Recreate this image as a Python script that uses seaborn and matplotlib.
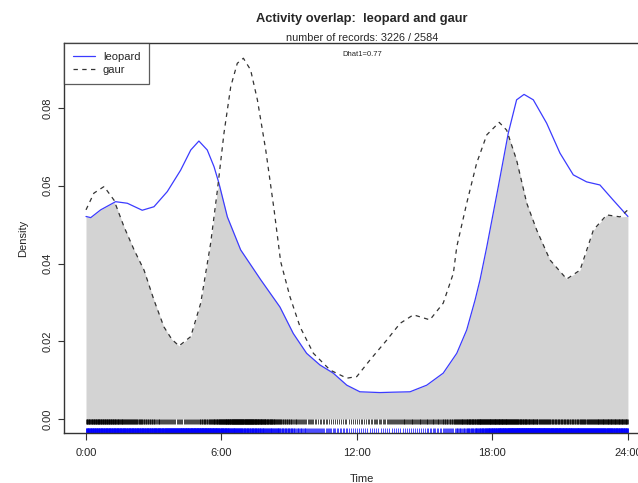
import numpy as np
import pandas as pd
import matplotlib
matplotlib.use("Agg")
import matplotlib.pyplot as plt
from matplotlib.lines import Line2D
import seaborn as sns

# Kernel density estimates of activity over the day (hours since midnight)
leopard_hours = [0.0, 0.21, 0.65, 1.31, 1.83, 2.49, 3.01, 3.6, 4.19, 4.64, 5.0,
                 5.37, 5.67, 5.89, 6.26, 6.85, 7.74, 8.59, 9.18, 9.77, 10.36,
                 10.95, 11.55, 12.13, 13.02, 13.61, 14.35, 15.09, 15.82, 16.42,
                 16.86, 17.23, 17.45, 17.75, 18.26, 18.7, 19.07, 19.4, 19.81,
                 20.4, 20.99, 21.58, 22.17, 22.76, 23.35, 24.0]
leopard = [0.0521, 0.0518, 0.0538, 0.0559, 0.0555, 0.0537, 0.0546, 0.0585,
           0.0640, 0.0692, 0.0715, 0.0692, 0.0649, 0.0606, 0.0520, 0.0435,
           0.0358, 0.0288, 0.0220, 0.0169, 0.0139, 0.0118, 0.0087, 0.0070,
           0.0068, 0.0069, 0.0070, 0.0087, 0.0118, 0.0169, 0.0229, 0.0306,
           0.0358, 0.0443, 0.0598, 0.0735, 0.0821, 0.0835, 0.0821, 0.0761,
           0.0684, 0.0628, 0.0610, 0.0602, 0.0563, 0.0521]

gaur_hours = [0.0, 0.35, 0.8, 1.24, 1.68, 2.13, 2.57, 3.01, 3.45, 3.8, 4.12,
              4.64, 5.08, 5.52, 5.82, 6.11, 6.41, 6.7, 6.97, 7.29, 7.59, 7.96,
              8.33, 8.62, 9.03, 9.48, 10.07, 10.81, 11.55, 11.99, 12.58, 13.32,
              13.91, 14.5, 15.23, 15.82, 16.27, 16.42, 16.86, 17.3, 17.75,
              18.3, 18.63, 19.07, 19.52, 19.96, 20.55, 21.29, 21.88, 22.47,
              23.06, 23.65, 24.0]
gaur = [0.0538, 0.0581, 0.0598, 0.0563, 0.0495, 0.0435, 0.0383, 0.0306,
        0.0237, 0.0205, 0.0188, 0.0212, 0.0298, 0.0452, 0.0589, 0.0735,
        0.0855, 0.0915, 0.0928, 0.0898, 0.0821, 0.0692, 0.0538, 0.0405,
        0.0315, 0.0237, 0.0169, 0.0126, 0.0105, 0.0109, 0.0152, 0.0203,
        0.0246, 0.0268, 0.0255, 0.0298, 0.0375, 0.0443, 0.0555, 0.0658,
        0.0731, 0.0763, 0.0743, 0.0666, 0.0555, 0.0486, 0.0409, 0.0360,
        0.0383, 0.0486, 0.0525, 0.0520, 0.0538]

species = ["leopard", "gaur"]
n_records = [3226, 2584]
dhat = 0.77
x_ticks = [0, 6, 12, 18, 24]
x_labels = ["0:00", "6:00", "12:00", "18:00", "24:00"]
y_ticks = [0.00, 0.02, 0.04, 0.06, 0.08]

BLUE = "#3b3bff"
DARK = "#333333"

sns.set_style("white")
plt.rcParams["font.family"] = ["Liberation Sans", "DejaVu Sans"]

df = pd.DataFrame({
    "Time": leopard_hours + gaur_hours,
    "Density": leopard + gaur,
    "species": ["leopard"] * len(leopard_hours) + ["gaur"] * len(gaur_hours),
})

fig = plt.figure(figsize=(6.38, 4.83), dpi=100)
W, H = 638, 483
left, right, top, bottom = 64, 660, 43, 433
ax = fig.add_axes([left / W, 1 - bottom / H, (right - left) / W, (bottom - top) / H])

# shaded overlap: pointwise minimum of the two density curves
grid = np.union1d(leopard_hours, gaur_hours)
overlap = np.minimum(np.interp(grid, leopard_hours, leopard),
                     np.interp(grid, gaur_hours, gaur))
ax.fill_between(grid, 0, overlap, color="#d3d3d3", lw=0, zorder=1)

sns.lineplot(data=df, x="Time", y="Density", hue="species", style="species",
             palette={"leopard": BLUE, "gaur": DARK},
             dashes={"leopard": "", "gaur": (3.5, 3.5)},
             linewidth=0.9, ax=ax, legend=False, zorder=3, sort=True)

# rug of record times, spaced according to each species' cumulative density
def rug_positions(h, dens, n):
    h = np.asarray(h)
    dens = np.asarray(dens)
    cum = np.concatenate([[0], np.cumsum((dens[1:] + dens[:-1]) / 2 * np.diff(h))])
    cum /= cum[-1]
    q = (np.arange(n) + 0.5) / n
    return np.interp(q, cum, h)

rug_gaur = rug_positions(gaur_hours, gaur, 1000)
rug_leo = rug_positions(leopard_hours, leopard, 1500)
ax.vlines(rug_gaur, -0.00125, 0.0, color="black", lw=0.5, zorder=2)
ax.vlines(rug_leo, -0.0037, -0.0024, color="blue", lw=0.5, zorder=2)

px_per_hour = 22.58
ax.set_xlim((left - 86) / px_per_hour, (right - 86) / px_per_hour)
y_per_px = 0.02 / 77.75
ax.set_ylim(-(bottom - 419) * y_per_px, (419 - top) * y_per_px)

ax.set_xticks(x_ticks)
ax.set_xticklabels(x_labels, fontsize=8)
ax.set_yticks(y_ticks)
ax.set_yticklabels([f"{v:.2f}" for v in y_ticks], fontsize=8, rotation=90, va="center")
ax.tick_params(axis="both", direction="out", width=0.8, color=DARK,
               bottom=True, left=True)
ax.tick_params(axis="x", length=5, pad=5.5)
ax.tick_params(axis="y", length=4.5, pad=4)
for s in ax.spines.values():
    s.set_visible(True)
    s.set_color(DARK)
    s.set_linewidth(1.0)
ax.set_xlabel("Time", fontsize=8, labelpad=12)
ax.set_ylabel("Density", fontsize=8, labelpad=10)

# legend box in the top-left corner
handles = [Line2D([], [], color=BLUE, lw=0.9),
           Line2D([], [], color=DARK, lw=0.9, dashes=(3.5, 3.5))]
leg = ax.legend(handles, species, loc="upper left", bbox_to_anchor=(0, 1),
                borderaxespad=0, fontsize=8, frameon=True, fancybox=False,
                handlelength=2.0, handletextpad=0.7, labelspacing=0.25,
                borderpad=0.8)
leg.get_frame().set_edgecolor(DARK)
leg.get_frame().set_linewidth(0.9)

cx = ((left + right) / 2) / W
fig.text(cx, 1 - 19 / H, "Activity overlap:  leopard and gaur", ha="center",
         va="center", fontsize=9.3, fontweight="bold")
fig.text(cx, 1 - 38 / H, f"number of records: {n_records[0]} / {n_records[1]}",
         ha="center", va="center", fontsize=7.8)
fig.text(cx, 1 - 55 / H, f"Dhat1={dhat}", ha="center", va="center", fontsize=5.5)

fig.savefig("out.png", dpi=100)
